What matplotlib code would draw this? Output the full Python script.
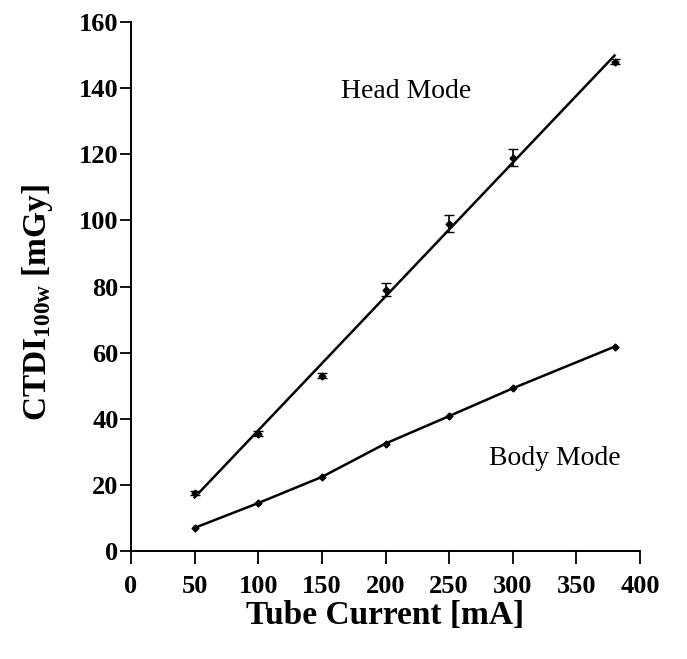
import numpy as np
import matplotlib
matplotlib.use("Agg")
import matplotlib.pyplot as plt

plt.rcParams['font.family'] = ['Liberation Serif', 'DejaVu Serif']
plt.rcParams['mathtext.fontset'] = 'custom'
plt.rcParams['mathtext.rm'] = 'Liberation Serif'
plt.rcParams['mathtext.bf'] = 'Liberation Serif:bold'

# tube current [mA]
current = [50, 100, 150, 200, 250, 300, 380]
head = [17.5, 35.5, 53, 79, 99, 119, 148]
head_err = [0.6, 0.8, 0.8, 2.0, 2.5, 2.5, 0.8]
body = [7, 14.5, 22.4, 32.5, 40.8, 49.2, 61.8]

fig = plt.figure(figsize=(6.87, 6.59), dpi=100)
ax = fig.add_axes([0.1907, 0.1639, 0.7409, 0.8027])

xs = np.array(current, dtype=float)

# head mode: fitted line + points with error bars
p = np.polyfit(current, head, 1)
ax.plot(xs, np.polyval(p, xs), color='black', lw=1.8)
ax.errorbar(current, head, yerr=head_err, fmt='D', ms=3.5, color='black',
            ecolor='black', elinewidth=1.2, capsize=3.5)

# body mode
ax.plot(current, body, color='black', lw=1.8, marker='D', ms=3.5)

ax.text(216, 139, 'Head Mode', ha='center', va='center', fontsize=20)
ax.text(333, 28, 'Body Mode', ha='center', va='center', fontsize=20)

ax.set_xlim(0, 400)
ax.set_ylim(0, 160)
ax.set_xticks(range(0, 401, 50))
ax.set_yticks(range(0, 161, 20))
for s in ['top', 'right']:
    ax.spines[s].set_visible(False)
for s in ['left', 'bottom']:
    ax.spines[s].set_linewidth(1.4)
ax.tick_params(direction='out', width=1.3, labelsize=19)
ax.tick_params(axis='x', length=9, pad=8)
ax.tick_params(axis='y', length=8, pad=1)
for lab in ax.get_xticklabels() + ax.get_yticklabels():
    lab.set_fontweight('bold')

ax.set_xlabel('Tube Current [mA]', fontsize=24, fontweight='bold', labelpad=2)
ax.set_ylabel(r'$\mathbf{CTDI_{100w}}$ [mGy]', fontsize=24, fontweight='bold')
ax.yaxis.set_label_coords(-0.15, 0.47)

fig.savefig('out.png', dpi=100)
